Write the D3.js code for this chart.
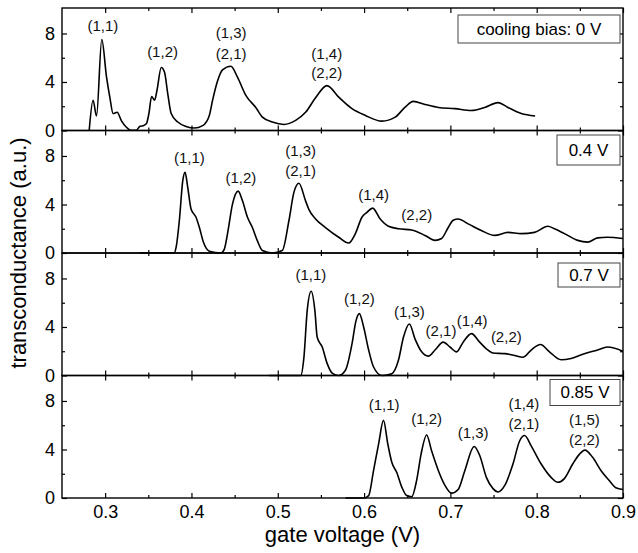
<!DOCTYPE html>
<html>
<head>
<meta charset="utf-8">
<script src="https://cdn.jsdelivr.net/npm/d3@7"></script>
<style>
  body { margin: 0; background: #fff; }
  svg { font-family: "Liberation Sans", Arial, sans-serif; }
</style>
</head>
<body>
<svg width="638" height="553"></svg>
<script>
// x axis
var xDomain = [0.25, 0.9];
var xMajor = [0.3, 0.4, 0.5, 0.6, 0.7, 0.8, 0.9];
var xMinor = [0.35, 0.45, 0.55, 0.65, 0.75, 0.85];
var yMajor = [0, 4, 8];
var yMinor = [2, 6];

var panelTitles = ["cooling bias: 0 V", "0.4 V", "0.7 V", "0.85 V"];

// [gate voltage, transconductance]
var bias0 = [[0.2815,0],[0.286,2.5],[0.290,1.2],[0.2961,7.5],[0.3016,4.4],[0.3054,2.75],[0.3092,1.4],[0.3138,1.5],
  [0.3189,0.8],[0.3246,0.27],[0.330,0.02],[0.336,0.02],[0.340,0.33],[0.3438,0.4],[0.3477,0.55],[0.3507,1.4],
  [0.3538,2.8],[0.3573,2.5],[0.36,3.3],[0.365,5.2],[0.3688,4.8],[0.3726,3.0],[0.3765,1.4],[0.3842,0.7],
  [0.3938,0.33],[0.4034,0.2],[0.413,0.4],[0.4207,1.24],[0.4245,2.5],[0.4303,4.1],[0.436,5.0],[0.4457,5.3],
  [0.4533,4.4],[0.463,2.9],[0.4745,1.9],[0.4822,1.1],[0.4937,0.7],[0.5072,0.5],[0.5207,0.83],[0.5322,1.5],
  [0.5438,2.7],[0.557,3.7],[0.5706,2.75],[0.586,1.8],[0.6015,1.24],[0.6206,0.77],[0.636,1.1],[0.6476,1.93],
  [0.657,2.4],[0.6707,2.15],[0.686,1.9],[0.7052,1.8],[0.7244,1.65],[0.7398,1.9],[0.7552,2.3],[0.7667,1.9],
  [0.7821,1.4],[0.7982,1.2]];
var bias04 = [[0.34,0],[0.380,0],[0.3823,0.5],[0.386,2.7],[0.3899,5.95],[0.3926,6.65],[0.3957,5.4],[0.3996,3.6],
  [0.4053,2.95],[0.4092,2.1],[0.4138,0.9],[0.4207,0.15],[0.4342,0],[0.438,0.3],[0.4418,1.6],[0.4476,4.05],
  [0.4541,5.1],[0.4591,4.3],[0.4649,2.95],[0.4706,2.1],[0.4764,1.0],[0.4822,0.2],[0.4937,0],[0.5052,0.2],
  [0.513,2.7],[0.5187,5.0],[0.5245,5.75],[0.5322,4.3],[0.536,3.6],[0.5438,2.8],[0.5553,2.1],[0.5706,1.3],
  [0.5822,0.82],[0.5899,1.6],[0.5975,2.95],[0.6033,3.35],[0.6099,3.7],[0.6187,2.8],[0.6283,2.2],[0.6398,2.0],
  [0.6552,1.9],[0.6706,1.45],[0.6822,1.04],[0.6898,1.2],[0.6975,2.1],[0.7033,2.7],[0.709,2.8],[0.7206,2.4],
  [0.7359,1.85],[0.7514,1.45],[0.7667,1.7],[0.7821,1.6],[0.7975,1.7],[0.8129,2.2],[0.8206,2.0],[0.8321,1.6],
  [0.8475,1.04],[0.859,0.9],[0.8706,1.25],[0.882,1.3],[0.9,1.2]];
var bias07 = [[0.49,0],[0.5265,0],[0.5303,1.5],[0.5341,5.35],[0.5387,6.95],[0.543,5.35],[0.5457,3.15],[0.5515,2.35],
  [0.5572,1.0],[0.563,0.2],[0.5706,0],[0.5784,0.43],[0.586,2.6],[0.5906,4.5],[0.5945,5.1],[0.5995,4.0],
  [0.6053,2.1],[0.611,0.7],[0.6206,0],[0.6321,0.15],[0.6398,1.25],[0.6456,3.15],[0.6525,4.25],[0.6591,3.0],
  [0.6667,1.95],[0.6745,1.6],[0.6822,2.1],[0.6917,2.75],[0.6995,2.35],[0.7071,1.95],[0.7148,2.75],[0.7244,3.45],
  [0.734,2.75],[0.7417,2.2],[0.7494,1.85],[0.763,1.8],[0.7744,1.65],[0.784,1.5],[0.7936,2.1],[0.8044,2.55],
  [0.8148,1.95],[0.8282,1.3],[0.8398,1.4],[0.8552,1.8],[0.8706,2.1],[0.882,2.35],[0.9,2.0]];
var bias085 = [[0.5784,0],[0.5995,0],[0.6053,0.2],[0.611,2.27],[0.6168,4.45],[0.6225,6.4],[0.6275,4.45],[0.6321,2.95],
  [0.6379,2.1],[0.6437,0.9],[0.6494,0.2],[0.6552,0.1],[0.6609,1.45],[0.666,3.6],[0.6725,5.2],[0.6782,3.9],
  [0.686,2.27],[0.6937,1.04],[0.7013,0.4],[0.709,0.7],[0.7168,2.27],[0.7275,4.25],[0.734,3.5],[0.7417,1.7],
  [0.7494,0.77],[0.7552,0.5],[0.763,1.04],[0.7725,2.8],[0.7802,4.7],[0.786,5.15],[0.7936,4.3],[0.8052,2.8],
  [0.8167,1.7],[0.8244,1.3],[0.8321,1.6],[0.8417,2.8],[0.8494,3.6],[0.8559,3.95],[0.8648,3.35],[0.8744,2.27],
  [0.884,1.45],[0.8917,0.85],[0.9,0.7]];

// peak labels: [voltage, baseline value, text]
var labels0 = [[0.2973,8.19,"(1,1)"],[0.3665,6.1,"(1,2)"],[0.446,7.62,"(1,3)"],[0.446,5.91,"(2,1)"],
  [0.5568,5.91,"(1,4)"],[0.5568,4.35,"(2,2)"]];
var labels04 = [[0.3976,7.41,"(1,1)"],[0.4573,5.76,"(1,2)"],[0.5265,7.96,"(1,3)"],[0.5265,6.31,"(2,1)"],
  [0.611,4.33,"(1,4)"],[0.661,2.68,"(2,2)"]];
var labels07 = [[0.5384,7.84,"(1,1)"],[0.5945,5.91,"(1,2)"],[0.6525,4.81,"(1,3)"],[0.6891,3.24,"(2,1)"],
  [0.7252,4.12,"(1,4)"],[0.7648,2.75,"(2,2)"]];
var labels085 = [[0.6233,7.27,"(1,1)"],[0.6725,6.12,"(1,2)"],[0.7263,4.93,"(1,3)"],[0.7852,7.36,"(1,4)"],
  [0.7852,5.71,"(2,1)"],[0.8552,6.06,"(1,5)"],[0.8552,4.41,"(2,2)"]];

var series = [bias0, bias04, bias07, bias085];
var peakLabels = [labels0, labels04, labels07, labels085];

var svg = d3.select("svg"),
    left = 62, right = 623, padTop = 8,
    panelH = 122.5;

// legend box placement per panel (offset from panel top, height)
var boxes = [{x: 458, dy: 7, h: 28}, {x: 557, dy: 4.5, h: 30}, {x: 558, dy: 10, h: 24}, {x: 550, dy: 4, h: 26}];

var x = d3.scaleLinear().domain(xDomain).range([left, right]);

svg.append("defs").append("clipPath").attr("id", "clip")
  .append("rect").attr("x", left).attr("y", 0).attr("width", right - left).attr("height", 553);

series.forEach(function(data, i) {
  var y0 = padTop + panelH * (i + 1);
  var y = d3.scaleLinear().domain([0, 10.1]).range([y0, y0 - panelH]);
  var g = svg.append("g");

  var line = d3.line()
    .x(function(d) { return x(d[0]); })
    .y(function(d) { return y(d[1]); })
    .curve(d3.curveMonotoneX);

  g.append("path")
    .datum(data)
    .attr("d", line)
    .attr("clip-path", "url(#clip)")
    .attr("fill", "none")
    .attr("stroke", "#000")
    .attr("stroke-width", 1.6)
    .attr("stroke-linejoin", "round");

  // left axis, ticks inside
  var yl = g.append("g").attr("transform", "translate(" + left + ",0)")
    .call(d3.axisLeft(y).tickValues(yMajor).tickSize(-5).tickPadding(7).tickFormat(d3.format("d")));
  yl.selectAll("text").attr("font-size", 18).attr("font-family", "Liberation Sans, Arial, sans-serif").attr("fill", "#000");
  g.append("g").attr("transform", "translate(" + left + ",0)")
    .call(d3.axisLeft(y).tickValues(yMinor).tickSize(-3).tickFormat(""));

  // right axis
  g.append("g").attr("transform", "translate(" + right + ",0)")
    .call(d3.axisRight(y).tickValues(yMajor).tickSize(-5).tickFormat(""));
  g.append("g").attr("transform", "translate(" + right + ",0)")
    .call(d3.axisRight(y).tickValues(yMinor).tickSize(-3).tickFormat(""));

  // bottom / top ticks
  var xb = g.append("g").attr("transform", "translate(0," + y0 + ")")
    .call(d3.axisBottom(x).tickValues(xMajor).tickSize(-5).tickPadding(7)
      .tickFormat(i === 3 ? d3.format(".1f") : ""));
  xb.selectAll("text").attr("font-size", 18).attr("font-family", "Liberation Sans, Arial, sans-serif").attr("fill", "#000");
  g.append("g").attr("transform", "translate(0," + y0 + ")")
    .call(d3.axisBottom(x).tickValues(xMinor).tickSize(-3).tickFormat(""));
  g.append("g").attr("transform", "translate(0," + (y0 - panelH) + ")")
    .call(d3.axisTop(x).tickValues(xMajor).tickSize(-5).tickFormat(""));
  g.append("g").attr("transform", "translate(0," + (y0 - panelH) + ")")
    .call(d3.axisTop(x).tickValues(xMinor).tickSize(-3).tickFormat(""));

  g.selectAll(".domain").remove();
  g.selectAll(".tick line").attr("stroke", "#000").attr("stroke-width", 1.2);

  g.append("rect")
    .attr("x", left).attr("y", y0 - panelH)
    .attr("width", right - left).attr("height", panelH)
    .attr("fill", "none").attr("stroke", "#000").attr("stroke-width", 1.4);

  // peak labels
  g.selectAll(".peak")
    .data(peakLabels[i]).enter()
    .append("text")
    .attr("class", "peak")
    .attr("x", function(d) { return x(d[0]); })
    .attr("y", function(d) { return y(d[1]); })
    .attr("text-anchor", "middle")
    .attr("font-size", 15)
    .attr("fill", "#111")
    .text(function(d) { return d[2]; });

  // legend box
  var b = boxes[i];
  g.append("rect")
    .attr("x", b.x).attr("y", y0 - panelH + b.dy)
    .attr("width", 620 - b.x).attr("height", b.h)
    .attr("fill", "#fff").attr("stroke", "#444").attr("stroke-width", 1);
  g.append("text")
    .attr("x", (b.x + 620) / 2)
    .attr("y", y0 - panelH + b.dy + b.h / 2)
    .attr("dy", "0.35em")
    .attr("text-anchor", "middle")
    .attr("font-size", 17)
    .text(panelTitles[i]);
});

svg.append("text")
  .attr("x", (left + right) / 2)
  .attr("y", 542)
  .attr("text-anchor", "middle")
  .attr("font-size", 22)
  .text("gate voltage (V)");

svg.append("text")
  .attr("transform", "translate(26," + (padTop + panelH * 2) + ") rotate(-90)")
  .attr("text-anchor", "middle")
  .attr("font-size", 22)
  .text("transconductance (a.u.)");
</script>
</body>
</html>
